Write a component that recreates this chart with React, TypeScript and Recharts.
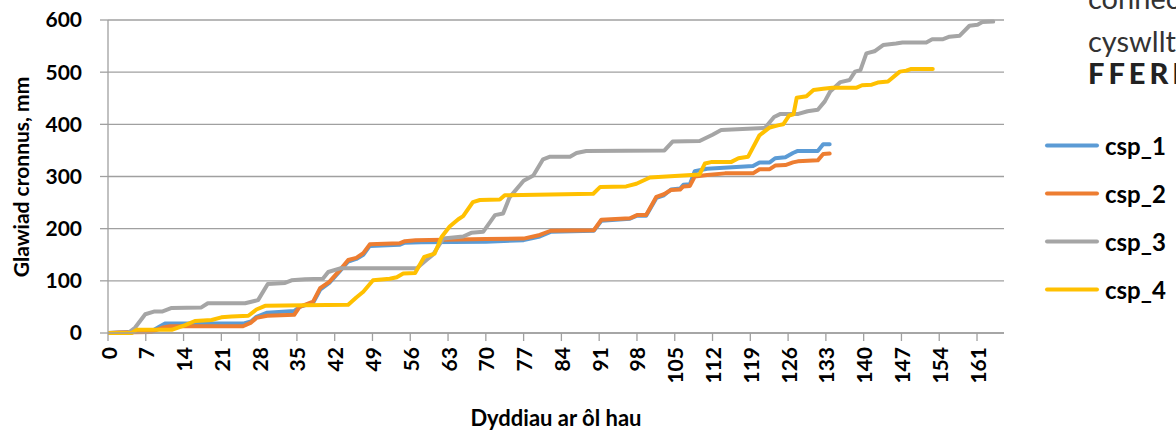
import { LineChart, Line, XAxis, YAxis, CartesianGrid } from "recharts";

// days after sowing / cumulative rainfall (mm)
const csp1Days = [0, 2, 8, 9.5, 10.5, 25, 26.5, 27.5, 29.5, 34.5, 35.5, 38, 39.3, 41, 43, 44.5, 46, 47.3, 48.5, 54, 55, 58, 70, 77, 80, 82, 90, 91.4, 96.7, 98, 99.7, 101.6, 103, 104.3, 106, 106.6, 107.8, 108.7, 111, 119.5, 120.7, 122.6, 123.6, 125.5, 126.9, 127.8, 131.5, 132.5, 133.7];
const csp1Vals = [0, 1, 3, 12, 18, 18, 22, 31, 39, 42, 50, 58, 83, 96, 119, 137, 142, 150, 167, 169, 173, 174, 175, 178, 185, 194, 196, 215, 219, 225, 225, 259, 264, 275, 277, 284, 285, 310, 315, 320, 327, 327, 335, 337, 345, 349, 349, 362, 362];

const csp2Days = [0, 2, 8, 10, 11.5, 25, 26.5, 27.5, 29.5, 34.5, 35.5, 38, 39.3, 41, 43, 44.5, 46, 47.3, 48.5, 54, 55, 57, 70, 77, 80, 82, 90, 91.4, 96.7, 98, 99.7, 101.6, 103, 104.3, 106, 106.6, 107.8, 108.7, 111, 114.3, 119.5, 120.7, 122.6, 123.6, 125.5, 126.9, 127.8, 131.5, 132.5, 133.7];
const csp2Vals = [0, 1, 2, 10, 13, 13, 20, 29, 33, 35, 50, 60, 86, 98, 121, 140, 144, 153, 170, 172, 176, 178, 180, 181, 188, 196, 197, 217, 220, 226, 226, 261, 266, 274, 275, 281, 282, 300, 303, 306, 306, 314, 314, 321, 322, 327, 329, 331, 343, 344];

const csp3Days = [0, 3.7, 5, 6.9, 8.5, 10, 11.8, 17.3, 18.5, 25.4, 27.8, 29.6, 32.8, 34, 36.5, 39.8, 40.8, 43, 57.2, 59, 60.2, 62.1, 65.8, 67.3, 69.5, 71.7, 73.2, 74.4, 77, 78.8, 80.6, 81.9, 85.6, 86.8, 88.6, 103.1, 104.6, 109.6, 112, 113.6, 121.7, 123.4, 124.6, 127.9, 129.6, 131.5, 132.8, 133.8, 135.7, 137.4, 138.4, 139.4, 140.5, 142, 143.6, 146, 147.2, 151.6, 152.7, 154.6, 155.9, 157.8, 159.6, 161.1, 162, 164];
const csp3Vals = [0, 0, 10, 36, 41, 41, 48, 49, 57, 57, 63, 94, 96, 101, 103, 104, 117, 124, 124, 140, 150, 181, 185, 192, 194, 226, 229, 260, 292, 302, 333, 338, 338, 345, 349, 350, 367, 368, 380, 389, 393, 414, 420, 420, 425, 428, 444, 463, 481, 485, 501, 504, 536, 540, 552, 555, 557, 557, 563, 563, 568, 570, 589, 591, 596, 597];

const csp4Days = [0, 4.4, 5.3, 11.8, 14.3, 16.1, 19.2, 21, 22.9, 26, 27.5, 29.1, 36.5, 44.5, 46, 47.3, 49.1, 52.2, 53.5, 54.7, 56.9, 58.6, 60.5, 61.8, 63.3, 64.9, 65.8, 67.6, 68.9, 72.6, 73.5, 89.9, 91.2, 96, 97.9, 100.4, 105, 109.6, 110.6, 111.9, 115.5, 116.8, 118.6, 120.7, 122.6, 124.1, 125.1, 126.2, 127, 127.6, 129.4, 130.7, 132.5, 134.2, 138.6, 139.7, 141.5, 142.6, 144.5, 146.7, 147.9, 148.7, 152.8];
const csp4Vals = [0, 0, 6, 6, 15, 23, 25, 30, 31.5, 33, 45, 52, 53, 54, 68, 79, 101, 104, 107, 114, 115, 146, 152, 184, 204, 218, 224, 251, 255, 256, 264, 267, 280, 281, 286, 298, 301, 304, 325, 328, 328, 335, 338, 379, 394, 398, 400, 417, 419, 451, 454, 466, 468, 470, 470, 475, 476, 480, 482, 501, 503, 506, 506];

const dayTicks = [0, 7, 14, 21, 28, 35, 42, 49, 56, 63, 70, 77, 84, 91, 98, 105, 112, 119, 126, 133, 140, 147, 154, 161];
const rainTicks = [0, 100, 200, 300, 400, 500, 600];

const toPoints = (days: number[], vals: number[]) =>
  days.map((d, i) => ({ day: d, value: vals[i] }));

const series = [
  { name: "csp_1", color: "#5b9bd5", data: toPoints(csp1Days, csp1Vals) },
  { name: "csp_2", color: "#ed7d31", data: toPoints(csp2Days, csp2Vals) },
  { name: "csp_3", color: "#a5a5a5", data: toPoints(csp3Days, csp3Vals) },
  { name: "csp_4", color: "#ffc000", data: toPoints(csp4Days, csp4Vals) },
];

const FONT = "Lato, 'Open Sans', sans-serif";
const GRID = "#a0a0a0";

function DayTick(props: any) {
  const { x, y, payload } = props;
  return (
    <text
      x={x}
      y={y}
      transform={`rotate(-90 ${x} ${y})`}
      textAnchor="end"
      dominantBaseline="central"
      fontSize={21}
      fontWeight={700}
      fontFamily={FONT}
      fill="#000"
    >
      {payload.value}
    </text>
  );
}

export default function App() {
  return (
    <div
      style={{
        position: "absolute",
        left: 0,
        top: 0,
        width: 1176,
        height: 433,
        overflow: "hidden",
        background: "#fff",
        fontFamily: FONT,
      }}
    >
      <LineChart width={1176} height={433} margin={{ top: 20, right: 172, left: 0, bottom: 0 }}>
        <CartesianGrid vertical={false} stroke={GRID} strokeWidth={1.3} />
        <XAxis
          type="number"
          dataKey="day"
          domain={[0, 166]}
          ticks={dayTicks}
          interval={0}
          height={100}
          tickSize={8}
          tickMargin={6}
          stroke={GRID}
          strokeWidth={1.3}
          tick={<DayTick />}
          allowDataOverflow
        />
        <YAxis
          type="number"
          domain={[0, 600]}
          ticks={rainTicks}
          width={108}
          tickSize={8}
          tickMargin={18}
          stroke={GRID}
          strokeWidth={1.3}
          tick={{ fill: "#000", fontSize: 21, fontWeight: 700, fontFamily: FONT }}
        />
        {series.map((s) => (
          <Line
            key={s.name}
            data={s.data}
            dataKey="value"
            name={s.name}
            type="linear"
            stroke={s.color}
            strokeWidth={4}
            strokeLinecap="round"
            strokeLinejoin="round"
            dot={false}
            activeDot={false}
            isAnimationActive={false}
          />
        ))}
      </LineChart>

      {/* axis titles */}
      <div
        style={{
          position: "absolute",
          left: 20,
          top: 177,
          transform: "translate(-50%, -50%) rotate(-90deg)",
          whiteSpace: "nowrap",
          fontSize: 21,
          fontWeight: 700,
          color: "#000",
        }}
      >
        Glawiad cronnus, mm
      </div>
      <div
        style={{
          position: "absolute",
          left: 556,
          top: 417,
          transform: "translate(-50%, -50%)",
          whiteSpace: "nowrap",
          fontSize: 22,
          fontWeight: 700,
          color: "#000",
        }}
      >
        Dyddiau ar ôl hau
      </div>

      {/* legend */}
      {series.map((s, i) => (
        <div
          key={s.name}
          style={{
            position: "absolute",
            left: 1045,
            top: 145 + i * 48,
            transform: "translateY(-50%)",
            display: "flex",
            alignItems: "center",
            whiteSpace: "nowrap",
          }}
        >
          <span style={{ display: "inline-block", width: 54, height: 4, borderRadius: 2, background: s.color }} />
          <span style={{ marginLeft: 6, fontSize: 24, fontWeight: 700, color: "#000" }}>{s.name}</span>
        </div>
      ))}

      {/* cut-off logo text */}
      <div style={{ position: "absolute", left: 1088, top: -17, fontSize: 29, color: "#333", lineHeight: "29px", whiteSpace: "nowrap" }}>
        connect
      </div>
      <div style={{ position: "absolute", left: 1088, top: 26, fontSize: 29, color: "#333", lineHeight: "29px", whiteSpace: "nowrap" }}>
        cyswllt
      </div>
      <div style={{ position: "absolute", left: 1088, top: 58, fontSize: 29, fontWeight: 900, color: "#222", lineHeight: "29px", letterSpacing: 4, whiteSpace: "nowrap" }}>
        FFERM
      </div>
    </div>
  );
}
